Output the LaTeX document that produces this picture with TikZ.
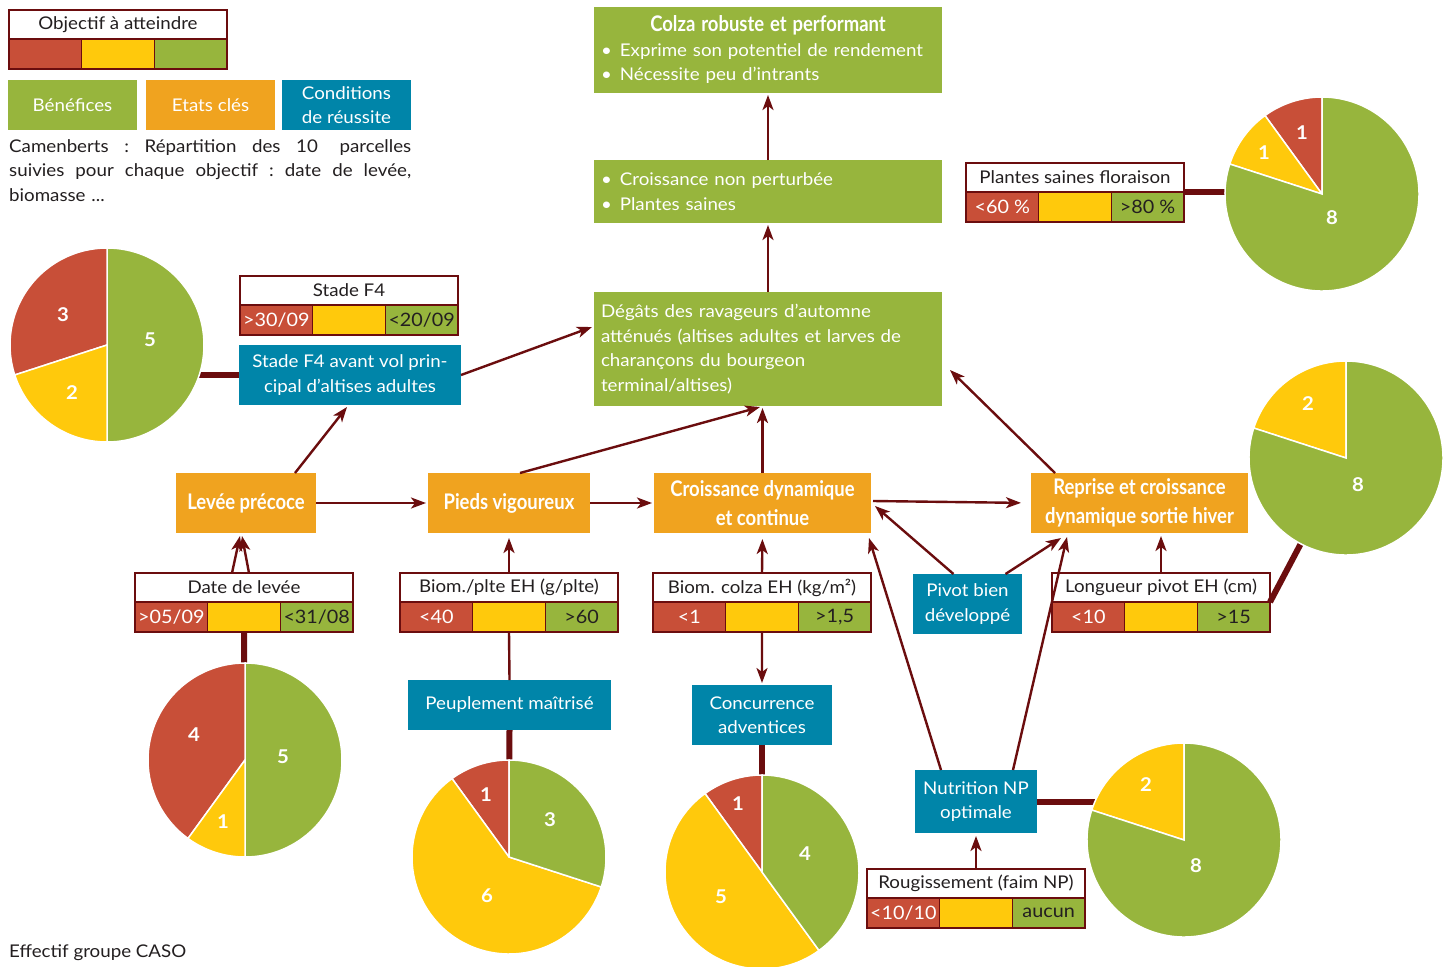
\documentclass[tikz,border=0pt]{standalone}
\usepackage{fontspec}
\setmainfont{Lato}[FakeStretch=1.07]
\newfontfamily\condfont{Lato}[FakeStretch=0.86]
\usetikzlibrary{arrows.meta,calc}
\definecolor{cred}{HTML}{C84F38}
\definecolor{cyel}{HTML}{FFC90C}
\definecolor{cgrn}{HTML}{97B53D}
\definecolor{corange}{HTML}{F0A31F}
\definecolor{cteal}{HTML}{0085A9}
\definecolor{lred}{HTML}{6B0D0E}
\definecolor{tdark}{HTML}{231F20}
\newcommand\fs[2]{\fontsize{#1}{#2}\selectfont}
\newcommand\cond[1]{{\condfont\bfseries #1}}
\newcommand\bul{\textbullet\hspace{8pt}}
\tikzset{
  box/.style={inner sep=0pt, outer sep=0pt, anchor=north west, text=white, font=\fs{17.5}{24.5}},
  greenbox/.style={box, fill=cgrn},
  orangebox/.style={box, fill=corange, align=center, font=\fs{21.5}{28.5}\condfont\bfseries},
  tealbox/.style={box, fill=cteal, align=center},
  ghead/.style={draw=lred, line width=2pt, fill=white, minimum width=218pt, minimum height=29pt, inner sep=0pt, outer sep=0pt, text=tdark, font=\fs{17.5}{20}},
  gcell/.style={draw=lred, line width=1.5pt, minimum width=72.67pt, minimum height=30pt, inner sep=0pt, outer sep=0pt, font=\fs{18.5}{20}},
  conn/.style={draw=lred, line width=2.4pt, -{Stealth[length=15pt,width=11pt,inset=4pt]}},
  thickc/.style={draw=lred, line width=6pt},
  pie/.style={circle, minimum size=194pt, inner sep=0pt, outer sep=0pt},
  pielab/.style={text=white, font=\fs{19}{20}\bfseries, inner sep=0pt},
}
\newcommand\gauge[6]{%
  \node[ghead, anchor=north west] (#1) at (#2,#3) {#4};
  \node[gcell, fill=cred, text=white, anchor=north west] (#1-r) at (#1.south west) {#5};
  \node[gcell, fill=cyel, anchor=north west] (#1-y) at (#1-r.north east) {};
  \node[gcell, fill=cgrn, text=tdark, anchor=north west] (#1-g) at (#1-y.north east) {#6};
}
\newcommand\pieslice[4]{% center, start, end, color
  \fill[#4, draw=white, line width=1.5pt] (#1) -- ++(#2:97pt) arc[start angle=#2, end angle=#3, radius=97pt] -- cycle;}
\begin{document}
\begin{tikzpicture}[x=1pt, y=-1pt]
\useasboundingbox[fill=white] (0,0) rectangle (1452,967);

% ---------- legend ----------
\gauge{obj}{9}{10}{Objectif à atteindre}{}{}
\node[greenbox, minimum width=129pt, minimum height=50pt] (legb) at (8,80) {Bénéfices};
\node[box, fill=corange, minimum width=129pt, minimum height=50pt] (lege) at (146,80) {Etats clés};
\node[tealbox, minimum width=129pt, minimum height=50pt] (legc) at (282,80) {Conditions\\de réussite};
\node[anchor=north west, inner sep=0pt, text width=402pt, align=left, text=tdark, font=\fs{17.5}{24.5}] (camemb) at (9,139)
  {\makebox[402pt][l]{Camenberts\hfill:\hfill Répartition\hfill des\hfill 10\hspace{6pt}\hfill parcelles}\\
   \makebox[402pt][l]{suivies\hfill pour\hfill chaque\hfill objectif\hfill :\hfill date\hfill de\hfill levée,}\\
   biomasse ...};
\node[anchor=base west, inner sep=0pt, text=tdark, font=\fs{17.5}{20}] (effectif) at (9,957) {Effectif groupe CASO};

% ---------- green boxes ----------
\node[greenbox, minimum width=348pt, minimum height=86pt, text width=334pt, align=left] (colza) at (594,7)
  {\makebox[334pt][c]{\fs{21.5}{25}\cond{Colza robuste et performant}}\\
   \bul Exprime son potentiel de rendement\\
   \bul Nécessite peu d’intrants};
\node[greenbox, minimum width=348pt, minimum height=63pt, text width=334pt, align=left] (sain) at (594,160)
  {\bul Croissance non perturbée\\ \bul Plantes saines};
\node[greenbox, minimum width=348pt, minimum height=114pt, text width=334pt, align=left] (degats) at (594,292)
  {Dégâts des ravageurs d’automne\\ atténués (altises adultes et larves de\\ charançons du bourgeon\\ terminal/altises)};

% ---------- orange boxes ----------
\node[orangebox, minimum width=140pt, minimum height=60pt] (levee) at (176,473) {Levée précoce};
\node[orangebox, minimum width=162pt, minimum height=60pt] (pieds) at (428,473) {Pieds vigoureux};
\node[orangebox, minimum width=217pt, minimum height=60pt] (croiss) at (654,473) {Croissance dynamique\\et continue};
\node[orangebox, minimum width=217pt, minimum height=60pt] (reprise) at (1031,473) {Reprise et croissance\\dynamique sortie hiver};

% ---------- teal boxes ----------
\node[tealbox, minimum width=222pt, minimum height=60pt] (f4cond) at (239,345) {Stade F4 avant vol prin-\\cipal d’altises adultes};
\node[tealbox, minimum width=203pt, minimum height=50pt] (peupl) at (408,680) {Peuplement maîtrisé};
\node[tealbox, minimum width=140pt, minimum height=60pt] (concur) at (692,685) {Concurrence\\adventices};
\node[tealbox, minimum width=109pt, minimum height=60pt] (pivot) at (913,574) {Pivot bien\\développé};
\node[tealbox, minimum width=122pt, minimum height=63pt] (nutri) at (915,770) {Nutrition NP\\optimale};

% ---------- gauges ----------
\gauge{f4}{240}{276}{Stade F4}{>30/09}{<20/09}
\gauge{flor}{966}{163}{Plantes saines floraison}{<60 \%}{>80 \%}
\gauge{date}{135}{573}{Date de levée}{>05/09}{<31/08}
\gauge{biomp}{400}{573}{Biom./plte EH (g/plte)}{<40}{>60}
\gauge{biomc}{653}{573}{Biom. colza EH (kg/m²)}{<1}{>1,5}
\gauge{pivotl}{1052}{573}{Longueur pivot EH (cm)}{<10}{>15}
\gauge{roug}{867}{869}{Rougissement (faim NP)}{<10/10}{aucun}

% ---------- pie holders ----------
\node[pie] (pieF4) at (107,345) {};
\node[pie] (pieDate) at (245,760) {};
\node[pie] (piePeu) at (509,857) {};
\node[pie] (pieConc) at (762,872) {};
\node[pie] (pieFlor) at (1322,194) {};
\node[pie] (pieLong) at (1346,458) {};
\node[pie] (pieNut) at (1184,840) {};

% ---------- thick links to pies ----------
\draw[thickc] (f4cond.west) -- (f4cond.west -| pieF4.center);
\draw[thickc] (date-y.south) -- (pieDate.center);
\draw[lred, line width=2.4pt] (biomp-y.south) -- (peupl.north);
\draw[thickc] (peupl.south) -- (piePeu.center);
\draw[thickc] (concur.south) -- (pieConc.center);
\draw[thickc] (flor.south east) -- (flor.south east -| pieFlor.center);
\draw[thickc] (pivotl-g.north east) -- (pieLong.center);
\draw[thickc] (nutri.east) -- (nutri.east -| pieNut.center);

% ---------- pies ----------
\pieslice{pieF4.center}{90}{-90}{cgrn}
\pieslice{pieF4.center}{90}{198}{cred}
\pieslice{pieF4.center}{198}{270}{cyel}
\node[pielab] (lF4a) at (63,315) {3};
\node[pielab] (lF4b) at (72,393) {2};
\node[pielab] (lF4c) at (150,340) {5};

\pieslice{pieDate.center}{90}{-90}{cgrn}
\pieslice{pieDate.center}{90}{234}{cred}
\pieslice{pieDate.center}{234}{270}{cyel}
\node[pielab] (lDa) at (194,735) {4};
\node[pielab] (lDb) at (223,822) {1};
\node[pielab] (lDc) at (283,757) {5};

\pieslice{piePeu.center}{90}{126}{cred}
\pieslice{piePeu.center}{126}{342}{cyel}
\pieslice{piePeu.center}{342}{450}{cgrn}
\node[pielab] (lPa) at (486,795) {1};
\node[pielab] (lPb) at (550,820) {3};
\node[pielab] (lPc) at (487,896) {6};

\pieslice{pieConc.center}{90}{126}{cred}
\pieslice{pieConc.center}{126}{306}{cyel}
\pieslice{pieConc.center}{306}{450}{cgrn}
\node[pielab] (lCa) at (738,804) {1};
\node[pielab] (lCb) at (805,854) {4};
\node[pielab] (lCc) at (721,897) {5};

\pieslice{pieFlor.center}{90}{126}{cred}
\pieslice{pieFlor.center}{126}{162}{cyel}
\pieslice{pieFlor.center}{162}{450}{cgrn}
\node[pielab] (lFa) at (1302,133) {1};
\node[pielab] (lFb) at (1264,153) {1};
\node[pielab] (lFc) at (1332,218) {8};

\pieslice{pieLong.center}{90}{162}{cyel}
\pieslice{pieLong.center}{162}{450}{cgrn}
\node[pielab] (lLa) at (1308,404) {2};
\node[pielab] (lLb) at (1358,485) {8};

\pieslice{pieNut.center}{90}{162}{cyel}
\pieslice{pieNut.center}{162}{450}{cgrn}
\node[pielab] (lNa) at (1146,785) {2};
\node[pielab] (lNb) at (1196,866) {8};

% ---------- arrows ----------
\draw[conn, shorten >=2pt] (sain.north) -- (colza.south);
\draw[conn, shorten >=2pt] (degats.north) -- (sain.south);
\draw[conn] (f4cond.east) -- ([xshift=-2pt,yshift=22pt]degats.west);
\draw[conn] ([xshift=49pt]levee.north) -- ([xshift=-3pt,yshift=-2pt]f4cond.south);
\draw[conn, shorten >=2pt] (levee.east) -- (pieds.west);
\draw[conn, shorten >=2pt] (pieds.east) -- (croiss.west);
\draw[conn, shorten >=10pt] ([xshift=2pt,yshift=2pt]croiss.east) -- (reprise.west);
\draw[conn] ([xshift=11pt]pieds.north) -- ([xshift=-8pt,yshift=-1pt]degats.south);
\draw[conn, shorten >=2pt] (croiss.north) -- (croiss.north |- degats.south);
\draw[conn] ([xshift=24pt]reprise.north west) -- ([xshift=8pt,yshift=-21pt]degats.east);
\draw[conn] ([xshift=-12pt]date.north) -- ([xshift=-6pt,yshift=-3pt]levee.south);
\draw[conn] ([xshift=5pt]date.north) -- ([xshift=-4pt,yshift=-3pt]levee.south);
\draw[conn, shorten >=5pt] (biomp.north) -- (pieds.south);
\draw[conn, shorten >=6pt] (biomc.north) -- (croiss.north |- croiss.south);
\draw[conn, shorten >=2pt] (biomc-y.south) -- (concur.north);
\draw[conn, shorten >=3pt] (pivotl.north) -- (pivotl.north |- reprise.south);
\draw[conn] ([xshift=-14pt]pivot.north) -- ([xshift=4pt,yshift=-3pt]croiss.east);
\draw[conn] ([xshift=38pt]pivot.north) -- ([xshift=30pt,yshift=-5pt]reprise.south west);
\draw[conn] ([xshift=-35pt]nutri.north) -- ([xshift=-2pt,yshift=-5pt]croiss.south east);
\draw[conn] ([xshift=37pt]nutri.north) -- ([xshift=36pt,yshift=-4pt]reprise.south west);
\draw[conn, shorten >=3pt] (roug.north) -- (nutri.south);
\end{tikzpicture}
\end{document}
